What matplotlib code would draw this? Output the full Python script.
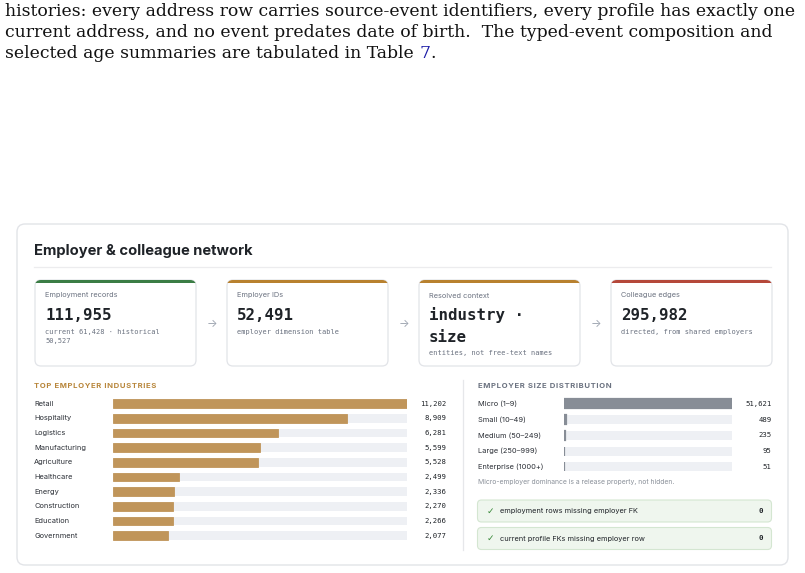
import matplotlib
matplotlib.use("Agg")
import matplotlib.pyplot as plt
from matplotlib.patches import FancyBboxPatch, Rectangle
import matplotlib.transforms as mtransforms

# Data
industries = ["Retail", "Hospitality", "Logistics", "Manufacturing", "Agriculture",
              "Healthcare", "Energy", "Construction", "Education", "Government"]
industry_counts = [11202, 8909, 6281, 5599, 5528, 2499, 2336, 2270, 2266, 2077]

size_bands = ["Micro (1\u20139)", "Small (10\u201349)", "Medium (50\u2013249)",
              "Large (250\u2013999)", "Enterprise (1000+)"]
size_counts = [51621, 489, 235, 95, 51]

kpi_labels = ["Employment records", "Employer IDs", "Resolved context", "Colleague edges"]
kpi_values = ["111,955", "52,491", "industry \u00b7\nsize", "295,982"]
kpi_notes = ["current 61,428 \u00b7 historical\n50,527", "employer dimension table",
             "entities, not free-text names", "directed, from shared employers"]

checks = ["employment rows missing employer FK", "current profile FKs missing employer row"]
check_counts = [0, 0]

paragraph = [
    "histories: every address row carries source-event identifiers, every profile has exactly one",
    "current address, and no event predates date of birth.  The typed-event composition and",
    "selected age summaries are tabulated in Table ",
]

W, H = 805, 573
SANS = ["Inter", "DejaVu Sans"]
MONO = ["DejaVu Sans Mono"]
SERIF = ["DejaVu Serif"]
DARK = "#1f2328"
GRAY = "#6b7280"

fig = plt.figure(figsize=(W / 100, H / 100), dpi=100)
ax = fig.add_axes([0, 0, 1, 1])
ax.set_xlim(0, W)
ax.set_ylim(H, 0)
ax.axis("off")


def px_axes(x0, y0, x1, y1):
    return fig.add_axes([x0 / W, 1 - y1 / H, (x1 - x0) / W, (y1 - y0) / H])


def spaced(s):
    return "\u200a".join(s)


# paragraph text on top
PFS = 12.45
for i, line in enumerate(paragraph):
    t = ax.text(5, 16.5 + i * 20.5, line, family=SERIF, fontsize=PFS,
                color="#111111", va="baseline")
fig.canvas.draw()
bb = t.get_window_extent().transformed(ax.transData.inverted())
t7 = ax.text(bb.x1, 16.5 + 2 * 20.5, "7", family=SERIF, fontsize=PFS,
             color="#1a1aa6", va="baseline")
fig.canvas.draw()
bb7 = t7.get_window_extent().transformed(ax.transData.inverted())
ax.text(bb7.x1, 16.5 + 2 * 20.5, ".", family=SERIF, fontsize=PFS,
        color="#111111", va="baseline")

# outer card
ax.add_patch(FancyBboxPatch((17, 224), 771, 341, boxstyle="round,pad=0,rounding_size=8",
                            fc="white", ec="#e2e4e8", lw=1.0))
ax.text(34, 254.5, "Employer & colleague network", family=SANS, fontsize=10.6,
        fontweight="bold", color=DARK, va="baseline")
ax.plot([34, 771], [267, 267], color="#ececee", lw=0.9)

# KPI cards
card_x = [35, 227, 419, 611]
top_colors = ["#3b7d45", "#b8812f", "#b8812f", "#b5483a"]
for i in range(4):
    x0, y0, w, h = card_x[i], 280, 161, 86
    ax.add_patch(FancyBboxPatch((x0, y0), w, h, boxstyle="round,pad=0,rounding_size=6",
                                fc="white", ec="#e2e4e8", lw=0.9))
    top = FancyBboxPatch((x0, y0), w, h, boxstyle="round,pad=0,rounding_size=6",
                         fc=top_colors[i], ec="none")
    ax.add_patch(top)
    clip = Rectangle((x0 - 2, y0 - 2), w + 4, 4.6, transform=ax.transData)
    top.set_clip_path(clip)
    ax.text(x0 + 10, 297.5, kpi_labels[i], family=SANS, fontsize=5.3, color=GRAY,
            va="baseline")
    val_lines = kpi_values[i].split("\n")
    for j, vl in enumerate(val_lines):
        ax.text(x0 + 10, 320 + j * 21.5, vl, family=MONO, fontsize=11.3,
                fontweight="bold", color=DARK, va="baseline")
    note_y = 334 if len(val_lines) == 1 else 355
    for j, nl in enumerate(kpi_notes[i].split("\n")):
        ax.text(x0 + 10, note_y + j * 9.3, nl, family=MONO, fontsize=5.0, color=GRAY,
                va="baseline")
    if i < 3:
        ax.text(x0 + w + 15.5, 324, "\u2192", family=SANS, fontsize=8, color="#9ca3af",
                ha="center", va="center")

# left: top employer industries
ax.text(34, 388, spaced("TOP EMPLOYER INDUSTRIES"), family=SANS, fontsize=5.55,
        fontweight="bold", color="#b8863b", va="baseline")
bx = px_axes(113.3, 396.3, 406.7, 543.0)
ypos = list(range(len(industries)))
bx.barh(ypos, [max(industry_counts)] * len(ypos), height=0.6, color="#eef0f4")
bx.barh(ypos, industry_counts, height=0.6, color="#c0955a", ec="#c0955a", lw=0.6)
bx.set_xlim(0, max(industry_counts))
bx.set_ylim(len(ypos) - 0.5, -0.5)
bx.axis("off")
tr = mtransforms.blended_transform_factory(ax.transData, bx.transData)
for k, name in enumerate(industries):
    ax.text(34, k, name, transform=tr, family=SANS, fontsize=5.35, color="#2b2f36",
            va="center")
    ax.text(446, k, f"{industry_counts[k]:,}", transform=tr, family=MONO, fontsize=5.2,
            color=DARK, ha="right", va="center")

# divider
ax.plot([463, 463], [380, 550], color="#e6e7ea", lw=0.9)

# right: employer size distribution
ax.text(478, 388, spaced("EMPLOYER SIZE DISTRIBUTION"), family=SANS, fontsize=5.55,
        fontweight="bold", color=GRAY, va="baseline")
sx = px_axes(564, 395.8, 732.3, 474.8)
spos = list(range(len(size_bands)))
sx.barh(spos, [max(size_counts)] * len(spos), height=0.56, color="#eef0f4")
sx.barh(spos, size_counts, height=0.56, color="#878d96", ec="#878d96", lw=1.6)
sx.set_xlim(0, max(size_counts))
sx.set_ylim(len(spos) - 0.5, -0.5)
sx.axis("off")
tr2 = mtransforms.blended_transform_factory(ax.transData, sx.transData)
for k, name in enumerate(size_bands):
    ax.text(478, k, name, transform=tr2, family=SANS, fontsize=5.35, color="#2b2f36",
            va="center")
    ax.text(771.5, k, f"{size_counts[k]:,}", transform=tr2, family=MONO, fontsize=5.2,
            color=DARK, ha="right", va="center")
ax.text(478, 484, "Micro-employer dominance is a release property, not hidden.",
        family=SANS, fontsize=4.9, color="#8b919a", va="baseline")

# integrity checks
for k, label in enumerate(checks):
    y0 = 500 + k * 27.5
    ax.add_patch(FancyBboxPatch((477.5, y0), 294, 22, boxstyle="round,pad=0,rounding_size=4",
                                fc="#eff6ee", ec="#d4e6d1", lw=0.8))
    ax.text(490, y0 + 11, "\u2713", family=["DejaVu Sans"], fontsize=6.5, color="#3a8a3a",
            ha="center", va="center")
    ax.text(499.5, y0 + 11, label, family=SANS, fontsize=5.3, color=DARK, va="center")
    ax.text(763, y0 + 11, str(check_counts[k]), family=MONO, fontsize=5.3, color=DARK,
            ha="right", va="center", fontweight="bold")

fig.savefig("out.png", dpi=100)
